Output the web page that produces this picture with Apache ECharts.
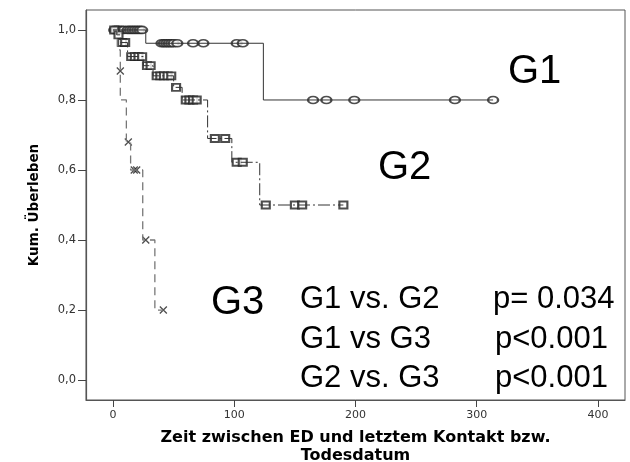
<!DOCTYPE html>
<html lang="de">
<head>
    <meta charset="UTF-8">
    <title>Kum. Überleben</title>
    <script src="https://cdn.jsdelivr.net/npm/echarts@6.0.0/dist/echarts.min.js"></script>
    <style>
        html, body { margin: 0; padding: 0; background: #fff; }
    </style>
</head>
<body>
    <div id="chart" style="width: 630px; height: 462px;"></div>

    <script>
        // Kaplan-Meier: Zeitpunkte der Ereignisse und Überleben danach
        var g1StepTime = [27, 124];
        var g1StepSurv = [0.962, 0.80];
        var g1End = 313.5;
        var g1CensorTime = [1, 3, 5, 7, 9, 12, 14, 16, 18, 20, 22, 24,
            40, 42, 44, 46, 48, 50, 53, 66, 74.5, 102, 107,
            165, 176, 199, 282, 313.5];
        var g1CensorSurv = [1, 1, 1, 1, 1, 1, 1, 1, 1, 1, 1, 1,
            0.962, 0.962, 0.962, 0.962, 0.962, 0.962, 0.962, 0.962, 0.962, 0.962, 0.962,
            0.80, 0.80, 0.80, 0.80, 0.80];

        var g2StepTime = [3, 6, 12, 25, 33, 50, 57, 78, 98, 121];
        var g2StepSurv = [0.986, 0.964, 0.924, 0.898, 0.869, 0.836, 0.80, 0.69, 0.622, 0.50];
        var g2End = 190;
        var g2CensorTime = [1, 4.5, 7.5, 10, 15, 18, 21, 24, 28, 31, 36, 39, 42, 45, 48, 52,
            60, 63, 66, 69, 84, 92.5, 102, 107, 126, 150, 156, 190];
        var g2CensorSurv = [1, 0.986, 0.964, 0.964, 0.924, 0.924, 0.924, 0.924, 0.898, 0.898,
            0.869, 0.869, 0.869, 0.869, 0.869, 0.836,
            0.80, 0.80, 0.80, 0.80, 0.69, 0.69, 0.622, 0.622, 0.50, 0.50, 0.50, 0.50];

        var g3StepTime = [3.5, 6, 11, 14.5, 24.5, 34.5];
        var g3StepSurv = [0.943, 0.80, 0.68, 0.60, 0.40, 0.20];
        var g3End = 41.5;
        var g3CensorTime = [6, 12.6, 17.5, 19.5, 27, 41.5];
        var g3CensorSurv = [0.883, 0.68, 0.60, 0.60, 0.40, 0.20];

        var xTicks = [0, 100, 200, 300, 400];
        var yTicks = [0, 0.2, 0.4, 0.6, 0.8, 1.0];

        function kurve(zeiten, werte, ende) {
            var pts = [[0, 1]];
            for (var i = 0; i < zeiten.length; i++) {
                pts.push([zeiten[i], werte[i]]);
            }
            pts.push([ende, werte[werte.length - 1]]);
            return pts;
        }

        function paare(a, b) {
            return a.map(function (t, i) { return [t, b[i]]; });
        }

        var chart = echarts.init(document.getElementById('chart'));

        var bigFont = '31px "Liberation Sans", Arial, sans-serif';
        var gFont = '40px "Liberation Sans", Arial, sans-serif';
        function txt(s, x, y, font) {
            return {
                type: 'text', x: x, y: y, silent: true,
                style: { text: s, font: font, fill: '#000', verticalAlign: 'middle', align: 'left' }
            };
        }

        chart.setOption({
            animation: false,
            grid: {
                left: 86, right: 5, top: 10, bottom: 62,
                outerBoundsMode: 'none',
                show: true, borderColor: '#555', borderWidth: 1
            },
            xAxis: {
                type: 'value',
                min: -22.3,
                max: 422.3,
                splitLine: { show: false },
                axisLine: { onZero: false, lineStyle: { color: '#555', width: 1.2 } },
                axisTick: { customValues: xTicks, length: 7, lineStyle: { color: '#444' } },
                axisLabel: {
                    customValues: xTicks, margin: 10, color: '#333',
                    fontFamily: 'DejaVu Sans', fontSize: 11
                },
                name: 'Zeit zwischen ED und letztem Kontakt bzw.\nTodesdatum',
                nameLocation: 'middle',
                nameGap: 29,
                nameTextStyle: {
                    fontFamily: 'DejaVu Sans', fontWeight: 'bold', fontSize: 16,
                    color: '#000', lineHeight: 18
                }
            },
            yAxis: {
                type: 'value',
                min: -0.057,
                max: 1.057,
                splitLine: { show: false },
                axisLine: { onZero: false, lineStyle: { color: '#555', width: 1.2 } },
                axisTick: { customValues: yTicks, length: 8, lineStyle: { color: '#444' } },
                axisLabel: {
                    customValues: yTicks, margin: 10, color: '#333',
                    fontFamily: 'DejaVu Sans', fontSize: 11.5,
                    formatter: function (v) { return v.toFixed(1).replace('.', ','); }
                },
                name: 'Kum. Überleben',
                nameLocation: 'middle',
                nameRotate: 90,
                nameGap: 45,
                nameTextStyle: {
                    fontFamily: 'DejaVu Sans', fontWeight: 'bold', fontSize: 13.5, color: '#000'
                }
            },
            series: [
                {
                    name: 'G1', type: 'line', step: 'end', showSymbol: false,
                    data: kurve(g1StepTime, g1StepSurv, g1End),
                    lineStyle: { color: '#333', width: 1 }
                },
                {
                    name: 'G2', type: 'line', step: 'end', showSymbol: false,
                    data: kurve(g2StepTime, g2StepSurv, g2End),
                    lineStyle: { color: '#333', width: 1, type: [12, 3, 2, 3] }
                },
                {
                    name: 'G3', type: 'line', step: 'end', showSymbol: false,
                    data: kurve(g3StepTime, g3StepSurv, g3End),
                    lineStyle: { color: '#777', width: 1.3, type: [8, 5] }
                },
                {
                    type: 'scatter', data: paare(g1CensorTime, g1CensorSurv),
                    symbol: 'emptyCircle', symbolSize: [10, 7],
                    itemStyle: { color: '#222', borderWidth: 1 }
                },
                {
                    type: 'scatter', data: paare(g2CensorTime, g2CensorSurv),
                    symbol: 'emptyRect', symbolSize: [8, 7],
                    itemStyle: { color: '#222', borderWidth: 1 }
                },
                {
                    type: 'scatter', data: paare(g3CensorTime, g3CensorSurv),
                    symbol: 'path://M0,0L10,10M0,10L10,0', symbolSize: 7,
                    itemStyle: { color: 'rgba(0,0,0,0)', borderColor: '#222', borderWidth: 1.3 }
                }
            ],
            graphic: [
                txt('G1', 508, 72, gFont),
                txt('G2', 378, 168, gFont),
                txt('G3', 211, 303, gFont),
                txt('G1 vs. G2', 300, 299, bigFont),
                txt('G1 vs G3', 300, 339, bigFont),
                txt('G2 vs. G3', 300, 378, bigFont),
                txt('p= 0.034', 493, 299, bigFont),
                txt('p<0.001', 495, 339, bigFont),
                txt('p<0.001', 495, 378, bigFont)
            ]
        });
    </script>
</body>
</html>
